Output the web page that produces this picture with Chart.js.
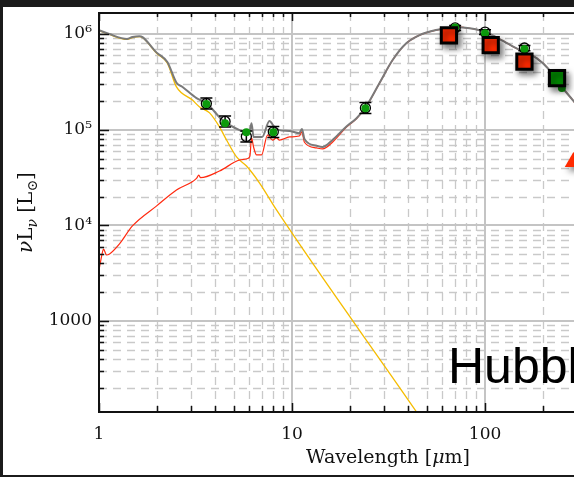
<!DOCTYPE html>
<html lang="en">
<head>
<meta charset="UTF-8">
<title>SED</title>
<script src="https://cdn.jsdelivr.net/npm/chart.js@4.4.1/dist/chart.umd.min.js"></script>
<style>
  html, body { margin: 0; padding: 0; background: #1b1b1b; }
  #wrap { position: absolute; left: 3px; top: 7px; width: 571px; height: 468px; background: #fff; }
</style>
</head>
<body>
<div id="wrap"><canvas id="sed" width="571" height="468"></canvas></div>
<script>
// wavelength in micron, nuLnu in Lsun
var totalWave = [1.0, 1.13, 1.40, 1.49, 1.62, 1.68, 1.99, 2.26, 2.52, 2.71,
    3.2, 3.6, 4.36, 5.35, 6.0, 6.17, 6.32, 7.0, 7.64, 8.1,
    8.6, 9.7, 10.9, 11.25, 11.6, 13.4, 14.4, 16.2, 19.2, 21.6,
    24.3, 28.4, 33.2, 39.2, 45.8, 55.7, 71.4, 83.1, 100.6, 119,
    151, 185, 216, 243, 287, 347];
var totalLum = [1.10e6, 1.0e6, 8.9e5, 9.3e5, 9.5e5, 9.3e5, 6.4e5, 5.1e5, 3.1e5, 2.8e5,
    2.14e5, 1.9e5, 1.26e5, 9.9e4, 9.2e4, 1.17e5, 8.4e4, 8.4e4, 1.23e5, 1.07e5,
    9.9e4, 9.7e4, 9.2e4, 1.02e5, 8.0e4, 6.8e4, 6.6e4, 7.8e4, 1.09e5, 1.32e5,
    1.77e5, 3.08e5, 5.35e5, 8.05e5, 9.76e5, 1.10e6, 1.18e6, 1.15e6, 1.05e6, 8.87e5,
    6.8e5, 5.61e5, 4.2e5, 3.0e5, 2.0e5, 1.2e5];

var starWave = [1.0, 1.13, 1.40, 1.49, 1.62, 1.68, 1.99, 2.26, 2.52, 3.05,
    3.32, 3.74, 4.21, 4.58, 5.16, 5.81, 6.79, 8.31, 44.2, 65.5];
var starLum = [1.09e6, 9.9e5, 8.8e5, 9.2e5, 9.4e5, 9.2e5, 6.3e5, 4.95e5, 2.8e5, 2.04e5,
    1.73e5, 1.50e5, 1.07e5, 7.8e4, 5.2e4, 4.17e4, 2.77e4, 1.45e4, 112, 35];

var dustWave = [1.0, 1.03, 1.055, 1.094, 1.134, 1.277, 1.49, 1.99, 2.52, 3.2,
    3.29, 3.36, 4.21, 5.35, 5.9, 6.05, 6.17, 6.32, 6.55, 6.95,
    7.47, 7.93, 8.31, 8.61, 9.7, 10.9, 11.25, 11.6, 13.4, 14.4,
    16.2, 19.2, 21.6, 24.3, 28.4, 33.2, 39.2, 45.8, 55.7, 71.4,
    83.1, 100.6, 119, 151, 185, 216, 243, 287, 347];
var dustLum = [3420, 4680, 5660, 4900, 5020, 6400, 9860, 1.6e4, 2.34e4, 3.1e4,
    3.35e4, 3.15e4, 3.7e4, 4.82e4, 5.0e4, 5.3e4, 8.2e4, 6.6e4, 5.45e4, 5.45e4,
    8.8e4, 7.8e4, 8.2e4, 7.8e4, 8.4e4, 8.6e4, 9.5e4, 7.4e4, 6.45e4, 6.3e4,
    7.4e4, 1.07e5, 1.31e5, 1.76e5, 3.07e5, 5.34e5, 8.04e5, 9.75e5, 1.10e6, 1.18e6,
    1.15e6, 1.05e6, 8.87e5, 6.8e5, 5.61e5, 4.2e5, 3.0e5, 2.0e5, 1.2e5];

// photometry
var obsWave = [3.6, 4.5, 5.8, 8.0, 24, 70, 100, 160];
var obsLum = [1.88e5, 1.22e5, 8.5e4, 9.5e4, 1.69e5, 1.16e6, 1.05e6, 7.15e5];
var obsLo = [1.65e5, 1.07e5, 7.45e4, 8.3e4, 1.48e5, 1.09e6, 9.9e5, 6.7e5];
var obsHi = [2.14e5, 1.39e5, 9.7e4, 1.08e5, 1.93e5, 1.23e6, 1.11e6, 7.6e5];

var modelWave = [3.6, 4.5, 5.8, 8.0, 24, 70, 100, 160, 250];
var modelLum = [1.86e5, 1.17e5, 9.4e4, 9.4e4, 1.68e5, 1.17e6, 1.02e6, 6.97e5, 2.73e5];

var redSqWave = [65, 107, 160];
var redSqLum = [9.7e5, 7.68e5, 5.16e5];
var greenSqWave = [236];
var greenSqLum = [3.47e5];
var limitWave = [287];
var limitLum = [4.6e4];

// axes
var xTicks = [1, 2, 3, 4, 5, 6, 7, 8, 9, 10, 20, 30, 40, 50, 60, 70, 80, 90, 100, 200];
var xTickLabels = {1: '1', 10: '10', 100: '100'};
var yTicks = [200, 300, 400, 500, 600, 700, 800, 900,
    1000, 2000, 3000, 4000, 5000, 6000, 7000, 8000, 9000,
    1e4, 2e4, 3e4, 4e4, 5e4, 6e4, 7e4, 8e4, 9e4,
    1e5, 2e5, 3e5, 4e5, 5e5, 6e5, 7e5, 8e5, 9e5, 1e6];
var yTickLabels = {1000: '1000', 10000: '10\u2074', 100000: '10\u2075', 1000000: '10\u2076'};

function pts(xs, ys) {
    return xs.map(function (v, i) { return {x: v, y: ys[i]}; });
}
function isMajor(v) {
    var l = Math.log10(v);
    return Math.abs(l - Math.round(l)) < 1e-9;
}

var serif = '"DejaVu Serif", serif';

function drawRuns(ctx, runs, x, y) {
    var cx = x;
    runs.forEach(function (r) {
        ctx.font = r.f;
        ctx.fillText(r.t, cx, y + (r.dy || 0));
        cx += ctx.measureText(r.t).width;
    });
}
function runsWidth(ctx, runs) {
    var w = 0;
    runs.forEach(function (r) { ctx.font = r.f; w += ctx.measureText(r.t).width; });
    return w;
}

var framePlugin = {
    id: 'frame',
    beforeDatasetsDraw: function (chart) {
        var ctx = chart.ctx, a = chart.chartArea, xs = chart.scales.x, ys = chart.scales.y;
        ctx.save();
        ctx.beginPath();
        ctx.rect(a.left, a.top, a.right - a.left, a.bottom - a.top);
        ctx.clip();
        ctx.strokeStyle = '#c9c9c9';
        ctx.lineWidth = 1.3;
        ctx.setLineDash([8, 6]);
        ctx.beginPath();
        xs.ticks.forEach(function (t) {
            if (isMajor(t.value)) return;
            var p = Math.round(xs.getPixelForValue(t.value)) + 0.5;
            ctx.moveTo(p, a.top); ctx.lineTo(p, a.bottom);
        });
        ys.ticks.forEach(function (t) {
            if (isMajor(t.value)) return;
            var p = Math.round(ys.getPixelForValue(t.value)) + 0.5;
            ctx.moveTo(a.left, p); ctx.lineTo(a.right, p);
        });
        ctx.stroke();
        ctx.setLineDash([]);
        ctx.strokeStyle = '#c4c4c4';
        ctx.lineWidth = 2;
        ctx.beginPath();
        xs.ticks.forEach(function (t) {
            if (!isMajor(t.value) || t.value === 1) return;
            var p = Math.round(xs.getPixelForValue(t.value));
            ctx.moveTo(p, a.top); ctx.lineTo(p, a.bottom);
        });
        ys.ticks.forEach(function (t) {
            if (!isMajor(t.value)) return;
            var p = Math.round(ys.getPixelForValue(t.value));
            ctx.moveTo(a.left, p); ctx.lineTo(a.right, p);
        });
        ctx.stroke();
        ctx.restore();
    },
    afterDatasetsDraw: function (chart) {
        var ctx = chart.ctx, a = chart.chartArea, xs = chart.scales.x, ys = chart.scales.y;
        ctx.save();
        ctx.strokeStyle = '#111';
        ctx.lineWidth = 1.5;
        ctx.beginPath();
        xs.ticks.forEach(function (t) {
            var p = Math.round(xs.getPixelForValue(t.value)) + 0.5;
            var big = isMajor(t.value);
            ctx.moveTo(p, a.bottom); ctx.lineTo(p, a.bottom - (big ? 9 : 6));
            ctx.moveTo(p, a.top); ctx.lineTo(p, a.top + (big ? 8 : 4));
        });
        ys.ticks.forEach(function (t) {
            var p = Math.round(ys.getPixelForValue(t.value)) + 0.5;
            ctx.moveTo(a.left, p); ctx.lineTo(a.left + (isMajor(t.value) ? 10 : 5), p);
        });
        ctx.stroke();
        ctx.lineWidth = 2;
        ctx.beginPath();
        ctx.moveTo(a.right, a.top); ctx.lineTo(a.left, a.top);
        ctx.lineTo(a.left, a.bottom); ctx.lineTo(a.right, a.bottom);
        ctx.stroke();
        ctx.restore();
    },
    afterDraw: function (chart) {
        var ctx = chart.ctx;
        ctx.save();
        ctx.fillStyle = '#111';
        ctx.textBaseline = 'alphabetic';
        ctx.textAlign = 'left';
        var xt = [
            {t: 'Wavelength [', f: '19px ' + serif},
            {t: '\u03bc', f: 'italic 19px ' + serif},
            {t: 'm]', f: '19px ' + serif}
        ];
        drawRuns(ctx, xt, 385 - runsWidth(ctx, xt) / 2, 456);
        var yt = [
            {t: '\u03bd', f: 'italic 20px ' + serif},
            {t: 'L', f: '20px ' + serif},
            {t: '\u03bd', f: 'italic 14px ' + serif, dy: 5},
            {t: ' [L', f: '20px ' + serif},
            {t: '\u2299', f: '14px ' + serif, dy: 5},
            {t: ']', f: '20px ' + serif}
        ];
        ctx.translate(29, 246);
        ctx.rotate(-Math.PI / 2);
        drawRuns(ctx, yt, 0, 0);
        ctx.restore();
        ctx.save();
        ctx.fillStyle = '#000';
        ctx.font = '50px "Liberation Sans", Arial, sans-serif';
        ctx.fillText('Hubble', 445, 376);
        ctx.restore();
    }
};

var markPlugin = {
    id: 'marks',
    beforeDatasetDraw: function (chart, args) {
        var ds = chart.data.datasets[args.index];
        if (ds.shadow) {
            var c = chart.ctx;
            c.save();
            c.shadowColor = 'rgba(0,0,0,0.5)';
            c.shadowBlur = 6;
            c.shadowOffsetX = 3;
            c.shadowOffsetY = 4;
        }
    },
    afterDatasetDraw: function (chart, args) {
        var ds = chart.data.datasets[args.index];
        var ctx = chart.ctx;
        if (ds.shadow) ctx.restore();
        if (!ds.errLo) return;
        var xs = chart.scales.x, ys = chart.scales.y;
        ctx.save();
        ctx.strokeStyle = '#000';
        ctx.lineWidth = 1.5;
        ctx.beginPath();
        ds.data.forEach(function (p, i) {
            var px = xs.getPixelForValue(p.x);
            var lo = ys.getPixelForValue(ds.errLo[i]);
            var hi = ys.getPixelForValue(ds.errHi[i]);
            ctx.moveTo(px, lo); ctx.lineTo(px, hi);
            ctx.moveTo(px - 6, lo); ctx.lineTo(px + 6, lo);
            ctx.moveTo(px - 6, hi); ctx.lineTo(px + 6, hi);
        });
        ctx.stroke();
        ctx.restore();
    }
};

var ctx = document.getElementById('sed').getContext('2d');
var sedChart = new Chart(ctx, {
    type: 'scatter',
    data: {
        datasets: [
            {label: 'limit', data: pts(limitWave, limitLum), pointStyle: 'triangle', pointRadius: 10,
             backgroundColor: '#ff2a00', borderColor: '#ff2a00', borderWidth: 0, shadow: true, order: 1},
            {label: 'green squares', data: pts(greenSqWave, greenSqLum), pointStyle: 'rect', pointRadius: 10.8,
             backgroundColor: '#008a00', borderColor: '#000', borderWidth: 3, shadow: true, order: 2},
            {label: 'red squares', data: pts(redSqWave, redSqLum), pointStyle: 'rect', pointRadius: 10.8,
             backgroundColor: '#ff2a00', borderColor: '#000', borderWidth: 3, shadow: true, order: 3},
            {label: 'model', data: pts(modelWave, modelLum), pointStyle: 'circle', pointRadius: 4,
             backgroundColor: '#0c9a0c', borderColor: '#0c9a0c', borderWidth: 0, order: 4},
            {label: 'observed', data: pts(obsWave, obsLum), pointStyle: 'circle', pointRadius: 5,
             backgroundColor: 'rgba(0,0,0,0)', borderColor: '#000', borderWidth: 1.3,
             errLo: obsLo, errHi: obsHi, order: 5},
            {label: 'total', data: pts(totalWave, totalLum), showLine: true, pointRadius: 0,
             borderColor: '#7a7a7a', borderWidth: 2, cubicInterpolationMode: 'monotone', order: 6},
            {label: 'dust', data: pts(dustWave, dustLum), showLine: true, pointRadius: 0,
             borderColor: '#ff2a10', borderWidth: 1.2, cubicInterpolationMode: 'monotone', order: 7},
            {label: 'stars', data: pts(starWave, starLum), showLine: true, pointRadius: 0,
             borderColor: '#f5bc00', borderWidth: 1.3, cubicInterpolationMode: 'monotone', order: 8}
        ]
    },
    options: {
        responsive: false,
        animation: false,
        events: [],
        layout: {autoPadding: false, padding: {top: 6, right: 0, bottom: 0, left: 0}},
        plugins: {legend: {display: false}, tooltip: {enabled: false}},
        scales: {
            x: {
                type: 'logarithmic', position: 'bottom', min: 1, max: 289,
                afterBuildTicks: function (s) { s.ticks = xTicks.map(function (v) { return {value: v}; }); },
                afterFit: function (s) { s.height = 63; s.paddingLeft = 0; s.paddingRight = 0; },
                grid: {display: false, drawTicks: false},
                border: {display: false},
                ticks: {
                    autoSkip: false, maxRotation: 0, padding: 12, color: '#111',
                    font: {family: serif, size: 17},
                    callback: function (v) { return xTickLabels[v] || ''; }
                }
            },
            y: {
                type: 'logarithmic', position: 'left', min: 112, max: 1.66e6,
                afterBuildTicks: function (s) { s.ticks = yTicks.map(function (v) { return {value: v}; }); },
                afterFit: function (s) { s.width = 96; s.paddingTop = 0; s.paddingBottom = 0; },
                grid: {display: false, drawTicks: false},
                border: {display: false},
                ticks: {
                    autoSkip: false, padding: 7, color: '#111',
                    font: {family: serif, size: 17},
                    callback: function (v) { return yTickLabels[v] || ''; }
                }
            }
        }
    },
    plugins: [framePlugin, markPlugin]
});
</script>
</body>
</html>
